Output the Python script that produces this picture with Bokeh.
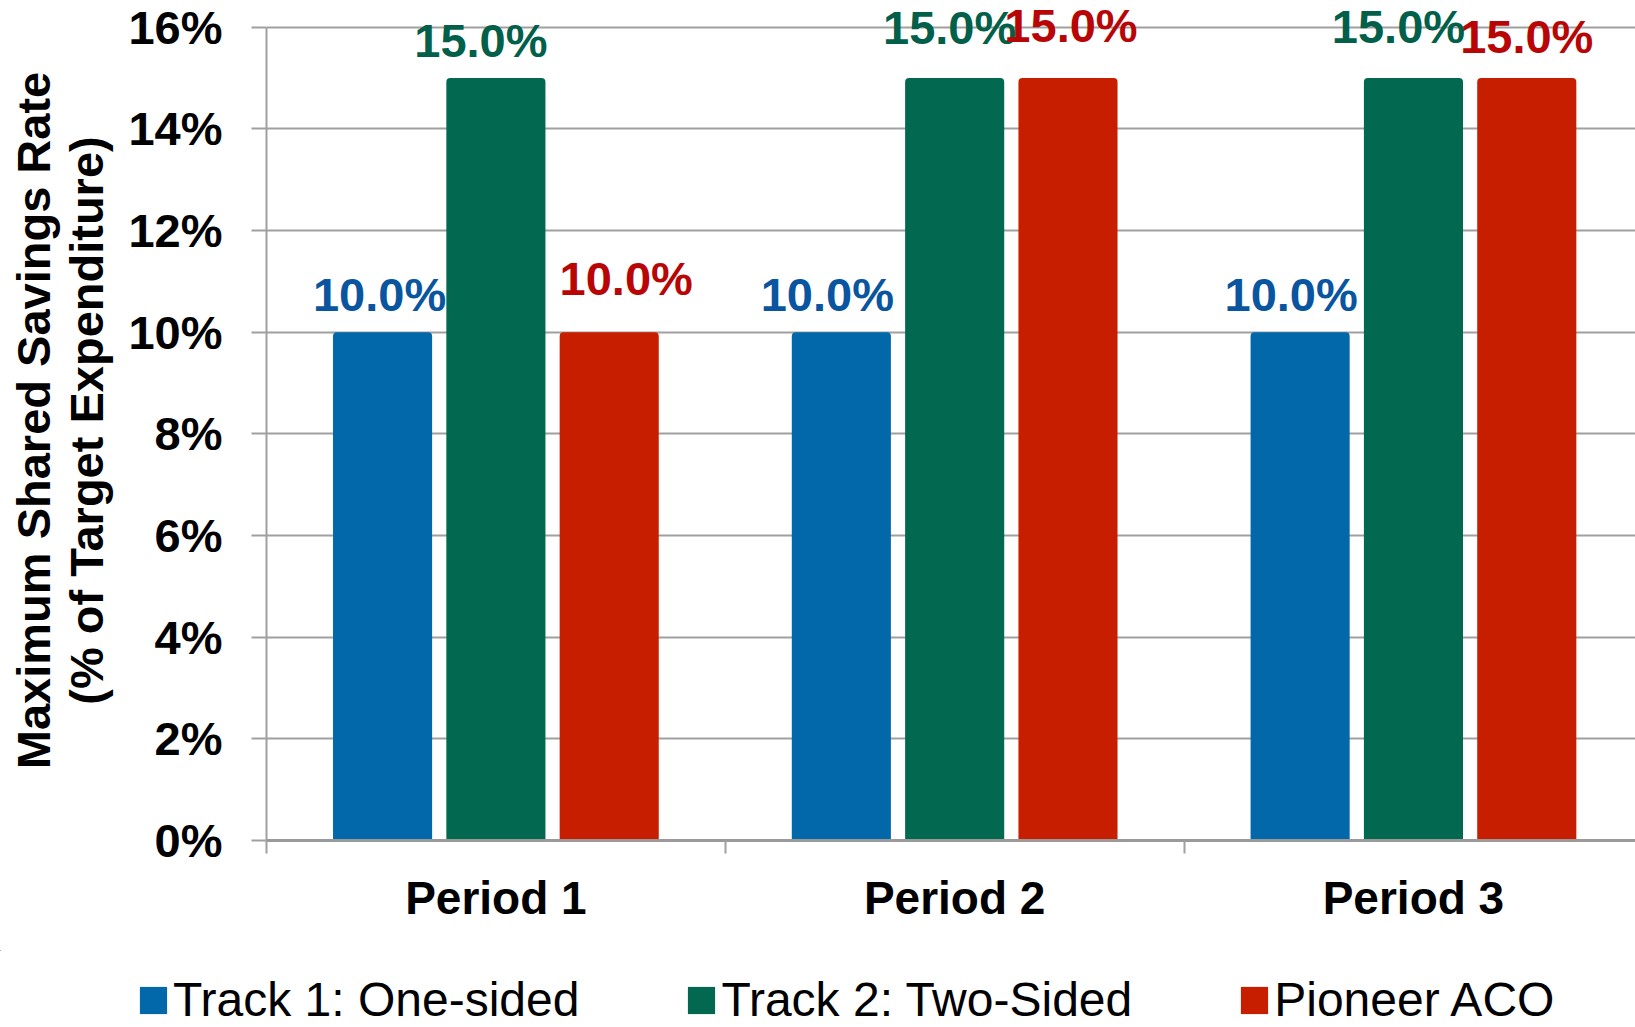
from bokeh.plotting import figure
from bokeh.layouts import column, row
from bokeh.models import (Range1d, FixedTicker, PrintfTickFormatter, ColumnDataSource,
                          Legend, LegendItem)
from bokeh.core.properties import value
from bokeh.embed import file_html
from bokeh.resources import INLINE

# ---- data -------------------------------------------------------------
periods = ["Period 1", "Period 2", "Period 3"]
series = ["Track 1: One-sided", "Track 2: Two-Sided", "Pioneer ACO"]
track1 = [10.0, 10.0, 10.0]
track2 = [15.0, 15.0, 15.0]
pioneer = [10.0, 15.0, 15.0]
y_ticks = [0, 2, 4, 6, 8, 10, 12, 14, 16]

# ---- styling ----------------------------------------------------------
FONT = "Liberation Sans"
bar_colors = ["#0368AA", "#02684F", "#C81E00"]
text_colors = ["#0A55A0", "#02604A", "#B80606"]
grid_color = "#A0A0A0"
offsets = [-0.247, 0.0, 0.247]
bar_width = 0.216
# value-label nudges in pixels: horizontal shift, lift above the bar top
label_dx = [[-3, -15, 17], [-14, -5, 3], [-9, -15, 0]]
label_gap = [[38, 38, 54], [38, 51, 53], [38, 52, 42]]

p = figure(width=1635, height=950,
           x_range=Range1d(0, 2.984), y_range=Range1d(0, 16.525),
           output_backend="svg", toolbar_location=None,
           min_border_left=266, min_border_right=0,
           min_border_top=0, min_border_bottom=110)
p.outline_line_color = None
p.background_fill_color = "white"
p.border_fill_color = "white"

# y axis
p.yaxis.ticker = FixedTicker(ticks=y_ticks)
p.yaxis.formatter = PrintfTickFormatter(format="%d%%")
p.yaxis.bounds = (0, 16)
p.yaxis.axis_line_color = grid_color
p.yaxis.axis_line_width = 2
p.yaxis.major_tick_out = 15
p.yaxis.major_tick_in = 0
p.yaxis.major_tick_line_color = grid_color
p.yaxis.major_tick_line_width = 2
p.yaxis.minor_tick_line_color = None
p.yaxis.major_label_standoff = 29
p.yaxis.major_label_text_font = FONT
p.yaxis.major_label_text_font_style = "bold"
p.yaxis.major_label_text_font_size = "47px"
p.yaxis.major_label_text_color = "black"
p.yaxis.axis_label = "Maximum Shared Savings Rate\n(% of Target Expenditure)"
p.yaxis.axis_label_text_font = FONT
p.yaxis.axis_label_text_font_style = "bold"
p.yaxis.axis_label_text_font_size = "47px"
p.yaxis.axis_label_text_line_height = 1.0
p.yaxis.axis_label_text_color = "black"
p.yaxis.axis_label_standoff = 12

# x axis: period names centred, boundary ticks between periods
p.xaxis.ticker = FixedTicker(ticks=[i + 0.5 for i in range(len(periods))],
                             minor_ticks=list(range(len(periods))))
p.xaxis.major_label_overrides = {i + 0.5: name for i, name in enumerate(periods)}
p.xaxis.axis_line_color = "#9A9A9A"
p.xaxis.axis_line_width = 3
p.xaxis.major_tick_line_color = None
p.xaxis.minor_tick_out = 13
p.xaxis.minor_tick_in = 0
p.xaxis.minor_tick_line_color = grid_color
p.xaxis.minor_tick_line_width = 2
p.xaxis.major_label_standoff = 18
p.xaxis.major_label_text_font = FONT
p.xaxis.major_label_text_font_style = "bold"
p.xaxis.major_label_text_font_size = "46px"
p.xaxis.major_label_text_color = "black"

p.ygrid.ticker = FixedTicker(ticks=y_ticks)
p.ygrid.grid_line_color = grid_color
p.ygrid.grid_line_width = 2
p.xgrid.visible = False

# ---- bars and value labels -------------------------------------------
all_values = [track1, track2, pioneer]
sources = []
lx, ly, ltext, ldx, ldy, lcol = [], [], [], [], [], []
for s, vals in enumerate(all_values):
    xs = [i + 0.5 + offsets[s] for i in range(len(periods))]
    src = ColumnDataSource(dict(x=xs, top=vals))
    sources.append(src)
    p.vbar(x="x", top="top", bottom=0, width=bar_width, source=src,
           fill_color=bar_colors[s], line_color=None,
           border_radius=(4, 4, 0, 0))
    for i, v in enumerate(vals):
        lx.append(xs[i])
        ly.append(v)
        ltext.append(f"{v:.1f}%")
        ldx.append(label_dx[i][s])
        ldy.append(-label_gap[i][s])
        lcol.append(text_colors[s])

labels = ColumnDataSource(dict(x=lx, y=ly, text=ltext, dx=ldx, dy=ldy, color=lcol))
p.text(x="x", y="y", text="text", x_offset="dx", y_offset="dy", source=labels,
       text_color="color", text_font=value(FONT), text_font_style="bold",
       text_font_size="47px", text_align="center", text_baseline="alphabetic")

# ---- legend strip under the chart ------------------------------------
# the strip's view window lies away from the data, so its bars stay hidden
# and only serve as legend swatches
lg = figure(width=1635, height=77, x_range=Range1d(10, 11), y_range=Range1d(-20, -10),
            x_axis_type=None, y_axis_type=None, output_backend="svg",
            toolbar_location=None, min_border_left=0, min_border_right=0,
            min_border_top=0, min_border_bottom=0)
lg.outline_line_color = None
lg.xgrid.visible = False
lg.ygrid.visible = False
swatches = []
for s in range(len(series)):
    swatches.append(lg.vbar(x="x", top="top", bottom=0, width=bar_width,
                            source=sources[s], fill_color=bar_colors[s],
                            line_color=None))
legend = Legend(items=[LegendItem(label=name, renderers=[r])
                       for name, r in zip(series, swatches)],
                orientation="horizontal", location=(136, 0),
                label_text_font=FONT, label_text_font_size="48px",
                label_text_color="black", glyph_width=34, glyph_height=34,
                label_standoff=3, spacing=105, padding=0, margin=0,
                border_line_color=None, background_fill_alpha=0)
lg.add_layout(legend, "center")

page = column(p, row(lg), spacing=0)
open("out.html", "w").write(file_html(page, INLINE))
